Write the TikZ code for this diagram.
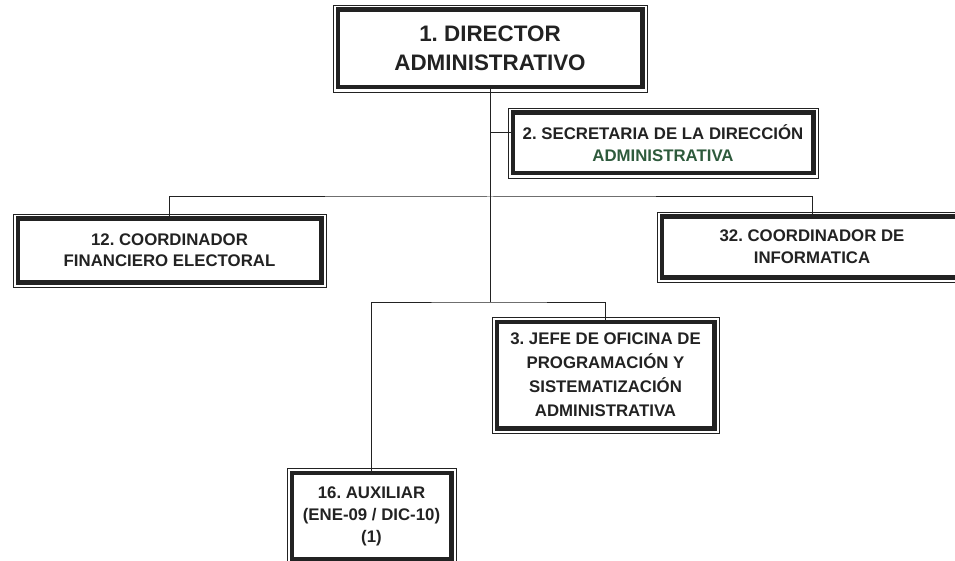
\documentclass[tikz,border=0pt]{standalone}
\usepackage{fontspec}
\setmainfont{Liberation Sans}
\frenchspacing
\definecolor{tinta}{HTML}{222222}
\definecolor{verdetexto}{HTML}{2E5A3C}
\tikzset{
  puesto/.style={draw=tinta, line width=4.5pt, text=tinta, inner sep=0pt, align=center,
    font=\bfseries\fontsize{16.8}{22}\selectfont},
  marco/.style={draw=tinta, line width=0.9pt},
  linea/.style={draw=tinta, line width=1pt},
}
\begin{document}
\begin{tikzpicture}[x=1pt,y=-1pt]
    \useasboundingbox (0,0) rectangle (955,561);
    \clip (0,0) rectangle (955,561);

    % Director at the top
    \node[puesto, minimum width=304.5pt, minimum height=77.5pt,
          font=\bfseries\fontsize{22.4}{29}\selectfont] (dir) at (490,48.5)
          {1. DIRECTOR\\ADMINISTRATIVO};
    % Secretaria hanging off the trunk
    \node[puesto, minimum width=300.5pt, minimum height=60.5pt] (sec) at (663,143)
          {2. SECRETARIA DE LA DIRECCIÓN\\{\color{verdetexto}ADMINISTRATIVA}};
    % Two coordinators
    \node[puesto, minimum width=303.5pt, minimum height=63.5pt,
          font=\bfseries\fontsize{16.8}{21}\selectfont] (fin) at (169.5,250.5)
          {12. COORDINADOR\\FINANCIERO ELECTORAL};
    \node[puesto, minimum width=300.5pt, minimum height=60.5pt] (inf) at (812,247)
          {32. COORDINADOR DE\\INFORMATICA};
    % Lower level
    \node[puesto, minimum width=217.5pt, minimum height=106.5pt,
          font=\bfseries\fontsize{16.8}{24}\selectfont] (jefe) at (605.5,375)
          {3. JEFE DE OFICINA DE\\PROGRAMACIÓN Y\\SISTEMATIZACIÓN\\ADMINISTRATIVA};
    \node[puesto, minimum width=159.5pt, minimum height=86.5pt] (aux) at (371.5,516)
          {16. AUXILIAR\\(ENE-09 / DIC-10)\\(1)};

    % Thin outer frame round each box
    \foreach \n in {dir,sec,fin,inf,jefe,aux}
        \draw[marco] ([xshift=-2.5pt,yshift=2.5pt]\n.north west)
            rectangle ([xshift=2.5pt,yshift=-2.5pt]\n.south east);

    % Junctions on the trunk
    \coordinate (s1) at (490,133);
    \coordinate (b1) at (490,197);
    \coordinate (b2) at (490,302);

    % Connectors
    \draw[linea] (dir.south) -- (b2);
    \draw[linea] (s1) -- (s1 -| sec.west);
    \draw[linea] (fin.north) |- (b1) -| (inf.north);
    \draw[linea] (aux.north) |- (b2) -| (jefe.north);
\end{tikzpicture}
\end{document}
